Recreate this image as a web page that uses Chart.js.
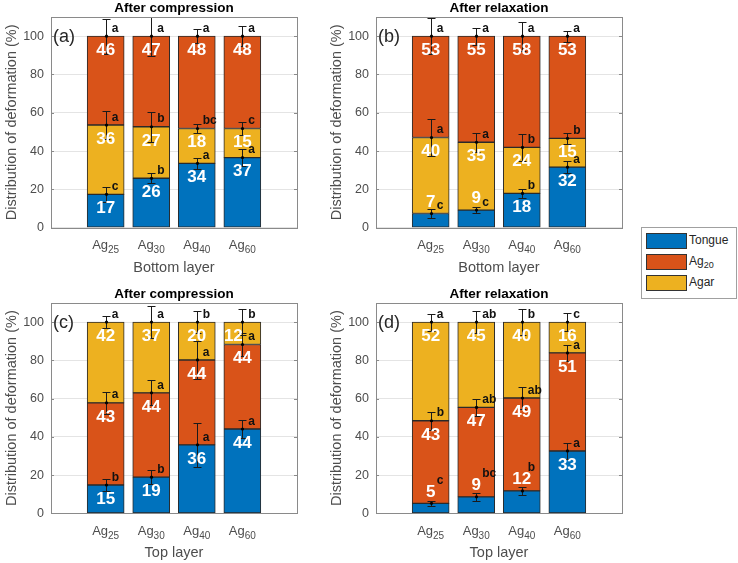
<!DOCTYPE html>
<html>
<head>
<meta charset="utf-8">
<script src="https://cdn.jsdelivr.net/npm/chart.js@4.4.0/dist/chart.umd.min.js"></script>
<style>
  body { margin: 0; background: #fff; width: 738px; height: 563px; position: relative; overflow: hidden; font-family: "Liberation Sans", Arial, sans-serif; }
  canvas { position: absolute; }
  #legend { position: absolute; left: 641px; top: 227px; width: 94px; height: 70px; border: 1px solid #a0a0a0; background: #fff; }
  #legend .item { position: absolute; left: 4px; height: 16px; font-size: 12px; line-height: 16px; color: #262626; white-space: nowrap; }
  #legend .sw { position: absolute; left: 0; top: 0; width: 39px; height: 14px; border: 1px solid #333; }
  #legend .txt { position: absolute; left: 43px; top: -1px; }
  #legend sub { font-size: 9px; vertical-align: -3px; line-height: 0; }
</style>
</head>
<body>
<canvas id="chartA" width="310" height="282" style="left:0;top:0"></canvas>
<canvas id="chartB" width="310" height="282" style="left:325px;top:0"></canvas>
<canvas id="chartC" width="310" height="281" style="left:0;top:282px"></canvas>
<canvas id="chartD" width="310" height="281" style="left:325px;top:282px"></canvas>
<div id="legend"></div>
<script>
    const FONT = '"Liberation Sans", Arial, Helvetica, sans-serif';

    // sample groups (subscript of Ag) and y ticks
    const groups = ['25', '30', '40', '60'];
    const yTicks = [0, 20, 40, 60, 80, 100];

    // (a) bottom layer, after compression - stacked Tongue, Agar, Ag20
    const aTongue = [17.4, 25.8, 33.6, 36.6];
    const aAgar   = [36.2, 26.9, 18.2, 15.2];
    const aAg20   = [46.4, 47.3, 48.2, 48.2];
    const aSd     = [[3.8, 2.5, 2.9, 4.3], [7.3, 7.8, 2.3, 3.5], [9.2, 10.5, 3.8, 5.2]];
    const aLetters = [['c', 'b', 'a', 'a'], ['a', 'b', 'bc', 'c'], ['a', 'a', 'a', 'a']];

    // (b) bottom layer, after relaxation
    const bTongue = [7.4, 9.2, 17.9, 31.6];
    const bAgar   = [39.7, 35.4, 24.0, 15.0];
    const bAg20   = [52.9, 55.4, 58.1, 53.4];
    const bSd     = [[2.2, 1.5, 2.5, 3.1], [9.5, 4.9, 7.2, 3.0], [9.5, 4.5, 7.5, 2.8]];
    const bLetters = [['c', 'c', 'b', 'a'], ['a', 'a', 'b', 'b'], ['a', 'a', 'a', 'a']];

    // (c) top layer, after compression - stacked Tongue, Ag20, Agar
    const cTongue = [14.8, 18.9, 35.8, 44.1];
    const cAg20   = [43.0, 44.1, 44.4, 44.2];
    const cAgar   = [42.2, 37.0, 19.8, 11.7];
    const cSd     = [[3.2, 3.8, 11.4, 4.5], [5.6, 6.6, 10.0, 6.0], [3.1, 8.4, 5.8, 6.7]];
    const cLetters = [['b', 'b', 'a', 'a'], ['a', 'a', 'a', 'a'], ['a', 'a', 'b', 'b']];

    // (d) top layer, after relaxation
    const dTongue = [5.2, 8.6, 11.7, 32.6];
    const dAg20   = [43.2, 46.8, 48.6, 51.3];
    const dAgar   = [51.6, 44.6, 39.7, 16.1];
    const dSd     = [[1.2, 2.0, 1.9, 4.4], [4.6, 4.6, 6.0, 4.0], [4.4, 5.8, 6.7, 4.9]];
    const dLetters = [['c', 'bc', 'b', 'a'], ['b', 'ab', 'ab', 'a'], ['a', 'ab', 'b', 'c']];

    const colTongue = '#0072BD', colAg20 = '#D95319', colAgar = '#EDB120';
    const grey = '#4d4d4d';

    const topRow = { padTop: 17, xHeight: 54.3, xTitlePad: 5.8 };
    const botRow = { padTop: 21, xHeight: 49.7, xTitlePad: 1.3 };

    const panels = [
        Object.assign({ id: 'chartA', tag: '(a)', title: 'After compression', xTitle: 'Bottom layer',
            series: [['Tongue', aTongue, colTongue], ['Agar', aAgar, colAgar], ['Ag20', aAg20, colAg20]],
            sd: aSd, letters: aLetters, lowLift: 4 }, topRow),
        Object.assign({ id: 'chartB', tag: '(b)', title: 'After relaxation', xTitle: 'Bottom layer',
            series: [['Tongue', bTongue, colTongue], ['Agar', bAgar, colAgar], ['Ag20', bAg20, colAg20]],
            sd: bSd, letters: bLetters, lowLift: 4 }, topRow),
        Object.assign({ id: 'chartC', tag: '(c)', title: 'After compression', xTitle: 'Top layer',
            series: [['Tongue', cTongue, colTongue], ['Ag20', cAg20, colAg20], ['Agar', cAgar, colAgar]],
            sd: cSd, letters: cLetters, lowLift: 4 }, botRow),
        Object.assign({ id: 'chartD', tag: '(d)', title: 'After relaxation', xTitle: 'Top layer',
            series: [['Tongue', dTongue, colTongue], ['Ag20', dAg20, colAg20], ['Agar', dAgar, colAgar]],
            sd: dSd, letters: dLetters, lowLift: 12 }, botRow)
    ];

    function makeDecor(p) {
        return {
            id: 'decor',
            afterDatasetsDraw(chart) {
                const ctx = chart.ctx, area = chart.chartArea;
                const xs = chart.scales.x, ys = chart.scales.y;
                ctx.save();

                // error bars (clipped to the axes box)
                ctx.save();
                ctx.beginPath();
                ctx.rect(area.left, area.top, area.width, area.height);
                ctx.clip();
                ctx.strokeStyle = '#1a1a1a';
                ctx.fillStyle = '#000';
                ctx.lineWidth = 1;
                groups.forEach((g, i) => {
                    const cx = Math.round(xs.getPixelForValue(i + 1)) + 0.5;
                    let cum = 0;
                    p.series.forEach((s, k) => {
                        cum += s[1][i];
                        const sd = p.sd[k][i];
                        const y0 = Math.round(ys.getPixelForValue(cum - sd)) + 0.5;
                        const y1 = Math.round(ys.getPixelForValue(cum + sd)) + 0.5;
                        ctx.beginPath();
                        ctx.moveTo(cx, y0); ctx.lineTo(cx, y1);
                        ctx.moveTo(cx - 4, y0); ctx.lineTo(cx + 4, y0);
                        ctx.moveTo(cx - 4, y1); ctx.lineTo(cx + 4, y1);
                        ctx.stroke();
                        ctx.beginPath();
                        ctx.arc(cx, ys.getPixelForValue(cum), 1.6, 0, 2 * Math.PI);
                        ctx.fill();
                    });
                });
                ctx.restore();

                // value labels inside / above the segments
                ctx.textAlign = 'center';
                ctx.textBaseline = 'middle';
                ctx.fillStyle = '#fff';
                ctx.font = 'bold 17px ' + FONT;
                groups.forEach((g, i) => {
                    const cx = xs.getPixelForValue(i + 1);
                    let cum = 0;
                    p.series.forEach((s, k) => {
                        const v = s[1][i];
                        const base = cum;
                        cum += v;
                        const low = k === 0 && v < 13;
                        const ly = low ? cum + 6 : cum - 7.4;
                        // nudge left when the letter of the boundary below sits at the same height
                        const clash = k > 0 && Math.abs(base + 4 - ly) < 2;
                        ctx.fillText(String(Math.round(v)), cx - (clash ? 9 : 0), ys.getPixelForValue(ly));
                    });
                });

                // significance letters
                ctx.textAlign = 'left';
                ctx.fillStyle = '#111';
                ctx.font = 'bold 12px ' + FONT;
                groups.forEach((g, i) => {
                    const cx = xs.getPixelForValue(i + 1);
                    let cum = 0;
                    p.series.forEach((s, k) => {
                        const v = s[1][i];
                        cum += v;
                        const lift = (k === 0 && v < 13) ? p.lowLift : 4;
                        ctx.fillText(p.letters[k][i], cx + 6, ys.getPixelForValue(cum + lift));
                    });
                });

                // axes box and inner ticks
                ctx.strokeStyle = '#8a8a8a';
                ctx.lineWidth = 1;
                ctx.strokeRect(Math.round(area.left) + 0.5, Math.round(area.top) + 0.5,
                    Math.round(area.width), Math.round(area.height));
                yTicks.forEach(t => {
                    const y = Math.round(ys.getPixelForValue(t)) + 0.5;
                    ctx.beginPath();
                    ctx.moveTo(area.left, y); ctx.lineTo(area.left + 3, y);
                    ctx.moveTo(area.right - 3, y); ctx.lineTo(area.right, y);
                    ctx.stroke();
                });

                // x tick labels Ag with subscript
                ctx.fillStyle = grey;
                ctx.textBaseline = 'alphabetic';
                groups.forEach((g, i) => {
                    const cx = xs.getPixelForValue(i + 1);
                    ctx.font = '13px ' + FONT;
                    const w1 = ctx.measureText('Ag').width;
                    ctx.font = '10px ' + FONT;
                    const w2 = ctx.measureText(g).width;
                    const x0 = cx - (w1 + w2) / 2;
                    ctx.font = '13px ' + FONT;
                    ctx.fillText('Ag', x0, area.bottom + 21.5);
                    ctx.font = '10px ' + FONT;
                    ctx.fillText(g, x0 + w1, area.bottom + 25.5);
                });

                // panel title and tag
                ctx.fillStyle = '#000';
                ctx.textAlign = 'center';
                ctx.textBaseline = 'middle';
                ctx.font = 'bold 13.5px ' + FONT;
                ctx.fillText(p.title, (area.left + area.right) / 2, area.top - 8.5);
                ctx.textAlign = 'left';
                ctx.font = '18px ' + FONT;
                ctx.fillStyle = '#262626';
                ctx.fillText(p.tag, area.left + 2, ys.getPixelForValue(100) + 1);

                ctx.restore();
            }
        };
    }

    panels.forEach(p => {
        new Chart(document.getElementById(p.id), {
            type: 'bar',
            data: {
                datasets: p.series.map(s => ({
                    label: s[0],
                    data: s[1].map((v, i) => ({ x: i + 1, y: v })),
                    backgroundColor: s[2],
                    borderColor: '#2a2a2a',
                    borderWidth: 1,
                    borderSkipped: false,
                    barThickness: 37
                }))
            },
            options: {
                responsive: false,
                animation: false,
                layout: { padding: { top: p.padTop, right: 13, left: 0, bottom: 0 } },
                plugins: { legend: { display: false }, tooltip: { enabled: false } },
                scales: {
                    x: {
                        type: 'linear', stacked: true, min: -0.2, max: 5.2, offset: false,
                        grid: { display: false }, border: { display: false },
                        ticks: { display: false },
                        afterBuildTicks: s => { s.ticks = groups.map((g, i) => ({ value: i + 1 })); },
                        afterFit: s => { s.height = p.xHeight; },
                        title: { display: true, text: p.xTitle, color: grey,
                                 font: { size: 14.5, family: FONT }, padding: { top: 0, bottom: p.xTitlePad } }
                    },
                    y: {
                        stacked: true, min: 0, max: 110,
                        grid: { color: '#e4e4e4', drawTicks: false }, border: { display: false },
                        afterBuildTicks: s => { s.ticks = yTicks.map(v => ({ value: v })); },
                        afterFit: s => { s.width = 51; },
                        ticks: { color: grey, padding: 7, font: { size: 12.5, family: FONT } },
                        title: { display: true, text: 'Distribution of deformation (%)', color: grey,
                                 font: { size: 14.5, family: FONT }, padding: { top: 3, bottom: 0 } }
                    }
                }
            },
            plugins: [makeDecor(p)]
        });
    });

    // legend
    const legendNames = [['Tongue', ''], ['Ag', '20'], ['Agar', '']];
    const legendCols = [colTongue, colAg20, colAgar];
    const legend = document.getElementById('legend');
    legendNames.forEach((n, i) => {
        const item = document.createElement('div');
        item.className = 'item';
        item.style.top = (5 + i * 21) + 'px';
        item.innerHTML = '<span class="sw" style="background:' + legendCols[i] + '"></span><span class="txt">' +
            n[0] + (n[1] ? '<sub>' + n[1] + '</sub>' : '') + '</span>';
        legend.appendChild(item);
    });
</script>
</body>
</html>
